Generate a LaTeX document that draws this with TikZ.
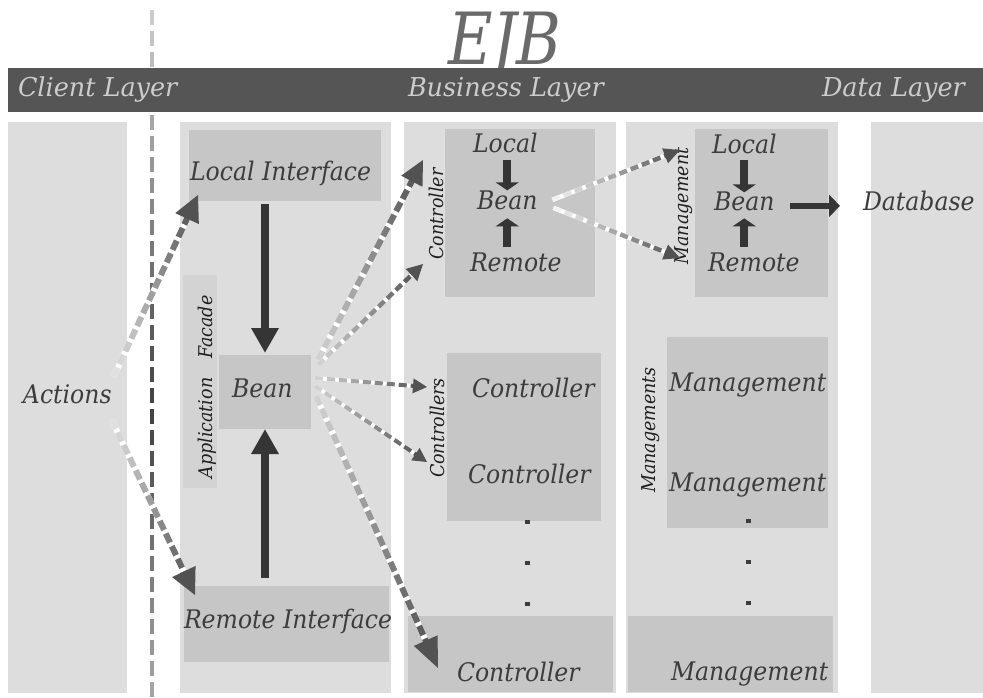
\documentclass[tikz,border=0pt]{standalone}
\usepackage{fontspec}
\setmainfont{DejaVu Serif}[FakeStretch=0.92]
\newfontfamily\hdrfont{DejaVu Serif}[FakeStretch=0.98]
\usetikzlibrary{arrows.meta,calc,decorations.markings}

\definecolor{barbg}{HTML}{555555}
\definecolor{colbg}{HTML}{DDDDDD}
\definecolor{boxbg}{HTML}{C6C6C6}
\definecolor{stripbg}{HTML}{D3D3D3}
\definecolor{ink}{HTML}{3C3C3C}
\definecolor{headink}{HTML}{CDCDCD}
\definecolor{titleink}{HTML}{6A6A6A}
\definecolor{solidarrow}{HTML}{353535}
\newcommand\fsz[1]{\fontsize{#1}{#1}\selectfont}

\tikzset{
  column/.style={fill=colbg, anchor=north west, minimum height=571pt},
  panel/.style={fill=boxbg, anchor=north west},
  lbl/.style={anchor=base west, text=ink, font=\fsz{25.6}\itshape},
  hdr/.style={anchor=base west, text=headink, font=\hdrfont\fsz{26}\itshape},
  side/.style={anchor=base, rotate=90, text=black!88, font=\fsz{19}\itshape},
  bigarrow/.style={draw=solidarrow, line width=8pt, -{Triangle[length=25pt,width=26pt]}},
  tinyarrow/.style={draw=solidarrow, line width=8pt, -{Triangle[length=8pt,width=23pt]}},
  dbarrow/.style={draw=solidarrow, line width=6pt, -{Triangle[length=11pt,width=22pt]}},
  % dashed connector whose dashes darken towards the head:
  % line width / head length / head width / start shade / step / dash
  fadearrow/.style args={#1/#2/#3/#4/#5/#6}{postaction={decorate},
    decoration={markings,
      mark=between positions 0 and -#2 step #5 with {
        \pgfmathsetmacro\fadeshade{#4+(72-#4)*(\pgfkeysvalueof{/pgf/decoration/mark info/distance from start})/(\pgfdecoratedpathlength)}
        \draw[white, line width=#1] (0pt,0pt) -- (#5,0pt);
        \draw[black!\fadeshade, line width=#1] (0pt,0pt) -- (#6,0pt);},
      mark=at position 1 with {\fill[black!68] (0pt,0pt) -- (-#2,0.5*#3) -- (-#2,-0.5*#3) -- cycle;}}}
}

\begin{document}
\begin{tikzpicture}[x=1pt, y=-1pt, every node/.style={inner sep=0pt, outer sep=0pt}]
\useasboundingbox (0,0) rectangle (983,698);
\fill[white] (0,0) rectangle (983,698);

% client / business boundary
\foreach \yy in {10,31,...,690} {
  \pgfmathsetmacro\lineshade{75-0.141*abs(\yy-400)}
  \draw[line width=4pt, black!\lineshade] (152,\yy) -- (152,\yy+15);
}

% title and layer bar (the bar hides the descender of the J)
\node[anchor=base west, text=titleink, font=\fsz{72}\itshape, xscale=0.92, text depth=0pt] (title) at (448,65) {EJB};
\node[fill=barbg, anchor=north west, minimum width=975pt, minimum height=44pt] (bar) at (8,68) {};
\node[hdr] (clientL) at (18,97) {Client Layer};
\node[hdr] (businessL) at (408,97) {Business Layer};
\node[hdr] (dataL) at (822,97) {Data Layer};

% columns
\node[column, minimum width=119pt] (colA) at (8,122) {};
\node[column, minimum width=211pt] (colB) at (180,122) {};
\node[column, minimum width=212pt] (colC) at (404,122) {};
\node[column, minimum width=212pt] (colD) at (626,122) {};
\node[column, minimum width=112pt] (colE) at (871,122) {};

% boxes
\node[panel, minimum width=192pt, minimum height=71pt] (localIf) at (189,130) {};
\node[fill=stripbg, anchor=north west, minimum width=34pt, minimum height=213pt] (facade) at (183,275) {};
\node[panel, minimum width=92pt, minimum height=74pt] (beanF) at (219,355) {};
\node[panel, minimum width=205pt, minimum height=76pt] (remoteIf) at (184,586) {};
\node[panel, minimum width=150pt, minimum height=168pt] (ctrlTop) at (445,129) {};
\node[panel, minimum width=154pt, minimum height=168pt] (ctrlMid) at (447,353) {};
\node[panel, minimum width=205pt, minimum height=76pt] (ctrlBot) at (408,616) {};
\node[panel, minimum width=133pt, minimum height=168pt] (mgmtTop) at (695,129) {};
\node[panel, minimum width=161pt, minimum height=191pt] (mgmtMid) at (667,337) {};
\node[panel, minimum width=205pt, minimum height=76pt] (mgmtBot) at (628,616) {};

% labels
\node[lbl] (actions) at (23,403) {Actions};
\node[lbl] (localTxt) at (190,181) {Local Interface};
\node[lbl] (beanTxt) at (232,397) {Bean};
\node[lbl] (remoteTxt) at (184,628) {Remote Interface};
\node[lbl] (cLocal) at (473,153) {Local};
\node[lbl] (cBean) at (477,209) {Bean};
\node[lbl] (cRemote) at (470,271) {Remote};
\node[lbl] (ctrlA) at (472,397) {Controller};
\node[lbl] (ctrlB) at (468,483) {Controller};
\node[lbl] (ctrlC) at (457,681) {Controller};
\node[lbl] (mLocal) at (712,154) {Local};
\node[lbl] (mBean) at (714,211) {Bean};
\node[lbl] (mRemote) at (708,271) {Remote};
\node[lbl] (mgmtA) at (669,391) {Management};
\node[lbl] (mgmtB) at (669,491) {Management};
\node[lbl] (mgmtC) at (671,680) {Management};
\node[lbl] (db) at (863,211) {Database};

\node[side] (facadeTxt) at (212,387) {Application\hspace{19pt}Facade};
\node[side] (ctrlSide) at (443,214) {Controller};
\node[side] (ctrlsSide) at (444,428) {Controllers};
\node[side] (mgmtSide) at (688,206) {Management};
\node[side] (mgmtsSide) at (655,430) {Managements};

% continuation dots
\foreach \yy in {522,563,604} \fill[ink] (525,\yy-2) rectangle (530,\yy+2);
\foreach \yy in {521,562,603} \fill[ink] (746,\yy-2) rectangle (751,\yy+2);

% solid arrows
\draw[bigarrow, shorten <=3pt, shorten >=2pt] (beanF.north |- localIf.south) -- (beanF.north);
\draw[bigarrow, shorten <=8pt] (beanF.south |- remoteIf.north) -- (beanF.south);
\draw[tinyarrow, shorten <=7pt] (cBean.north |- cLocal.south) -- (cBean.north);
\draw[tinyarrow, shorten <=5pt, shorten >=9pt] (cBean.south |- cRemote.north) -- (cBean.south);
\draw[tinyarrow, shorten <=6pt] (mBean.north |- mLocal.south) -- (mBean.north);
\draw[tinyarrow, shorten <=5pt, shorten >=7pt] (mBean.south |- mRemote.north) -- (mBean.south);
\draw[dbarrow] ($(mBean.east)+(16,4)$) -- ($(db.west |- mBean.east)+(-23,4)$);

% dashed connectors
\coordinate (actUp) at ($(actions.east)+(2,-17)$);
\coordinate (actUpTip) at ($(localIf.south west)+(9,-6)$);
\coordinate (actDown) at ($(actions.east)+(0,26)$);
\coordinate (actDownTip) at ($(remoteIf.north west)+(11,9)$);
\path[fadearrow=6pt/26pt/26pt/12/14pt/10pt] (actUp) -- (actUpTip);
\path[fadearrow=6pt/26pt/26pt/12/14pt/10pt] (actDown) -- (actDownTip);

\coordinate (b1) at ($(beanF.north east)+(7,5)$);
\coordinate (b1t) at ($(ctrlTop.north west)+(-22,31)$);
\coordinate (b2) at ($(beanF.north east)+(7,10)$);
\coordinate (b2t) at ($(ctrlTop.south west)+(-22,-33)$);
\coordinate (b3) at ($(beanF.east)+(4,-14)$);
\coordinate (b3t) at ($(ctrlMid.west)+(-20,-50)$);
\coordinate (b4) at ($(beanF.east)+(4,-6)$);
\coordinate (b4t) at ($(ctrlMid.west)+(-20,25)$);
\coordinate (b5) at ($(beanF.east)+(5,4)$);
\coordinate (b5t) at ($(ctrlBot.west)+(30,14)$);
\path[fadearrow=6pt/24pt/24pt/18/14pt/10pt] (b1) -- (b1t);
\path[fadearrow=4.5pt/16pt/17pt/18/12pt/8pt] (b2) -- (b2t);
\path[fadearrow=4pt/14pt/15pt/18/12pt/8pt] (b3) -- (b3t);
\path[fadearrow=4pt/14pt/15pt/18/12pt/8pt] (b4) -- (b4t);
\path[fadearrow=6pt/30pt/26pt/18/14pt/10pt] (b5) -- (b5t);

\coordinate (m1) at ($(cBean.east)+(15,0)$);
\coordinate (m1t) at ($(mgmtTop.north west)+(-15,21)$);
\coordinate (m2) at ($(cBean.east)+(16,8)$);
\coordinate (m2t) at ($(mgmtTop.west)+(-15,45)$);
\path[fadearrow=4.5pt/16pt/16pt/5/12pt/8pt] (m1) -- (m1t);
\path[fadearrow=4.5pt/16pt/16pt/5/12pt/8pt] (m2) -- (m2t);
\end{tikzpicture}
\end{document}
